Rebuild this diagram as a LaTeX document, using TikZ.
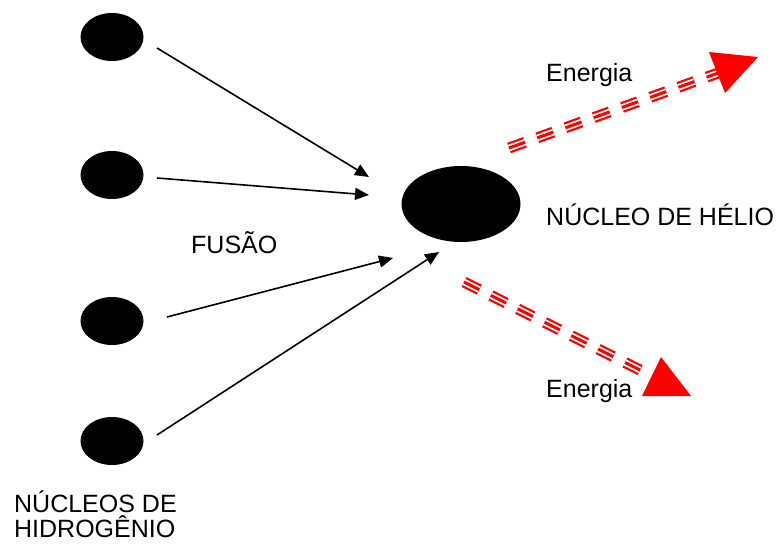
\documentclass[tikz,border=0pt]{standalone}
\usepackage{fontspec}
\setmainfont{Liberation Sans}
\usetikzlibrary{shapes.geometric,arrows.meta}
\tikzset{
  nucleo/.style={ellipse, fill=black, inner sep=0pt},
  fusao/.style={line width=1.6pt, -{Triangle[length=14pt,width=12pt]}},
  raio/.style={red, line width=11pt, dash pattern=on 17pt off 13pt,
    postaction={draw=white, line width=6.5pt, dash pattern=on 17pt off 13pt},
    postaction={draw=red, line width=3pt, dash pattern=on 17pt off 13pt}},
  rotulo/.style={anchor=base west, inner sep=0pt, font=\fontsize{25}{25}\selectfont}
}
\begin{document}
\begin{tikzpicture}[x=1pt, y=-1pt]
\useasboundingbox (0,0) rectangle (777,544);
\node[nucleo, minimum width=63pt, minimum height=48pt] (h1) at (112,37) {};
\node[nucleo, minimum width=63pt, minimum height=48pt] (h2) at (112,175) {};
\node[nucleo, minimum width=63pt, minimum height=48pt] (h3) at (112,321) {};
\node[nucleo, minimum width=63pt, minimum height=48pt] (h4) at (112,441) {};
\node[nucleo, minimum width=119pt, minimum height=76pt] (he) at (461,204) {};
\coordinate (a1) at (157,48);
\coordinate (b1) at (369,177);
\coordinate (a2) at (157,178);
\coordinate (b2) at (369,195);
\coordinate (a3) at (167,317);
\coordinate (b3) at (393,258);
\coordinate (a4) at (157,435);
\coordinate (b4) at (439,252);
\draw[fusao] (a1) -- (b1);
\draw[fusao] (a2) -- (b2);
\draw[fusao] (a3) -- (b3);
\draw[fusao] (a4) -- (b4);
\coordinate (e1) at (509,148);
\coordinate (f1) at (721,72);
\draw[raio] (e1) -- (f1);
\fill[red] (709,52) -- (758,57) -- (725,93) -- cycle;
\coordinate (e2) at (464,282);
\coordinate (f2) at (642,371);
\draw[raio] (e2) -- (f2);
\fill[red] (661,357) -- (691,396) -- (642,396) -- cycle;
\node[rotulo] (en1) at (546,81) {Energia};
\node[rotulo] (en2) at (546,397) {Energia};
\node[rotulo] (nhe) at (546,225) {NÚCLEO DE HÉLIO};
\node[rotulo] (fus) at (191,253) {FUSÃO};
\node[rotulo, align=left] (nh) at (14,537) {NÚCLEOS DE\\HIDROGÊNIO};
\end{tikzpicture}
\end{document}
